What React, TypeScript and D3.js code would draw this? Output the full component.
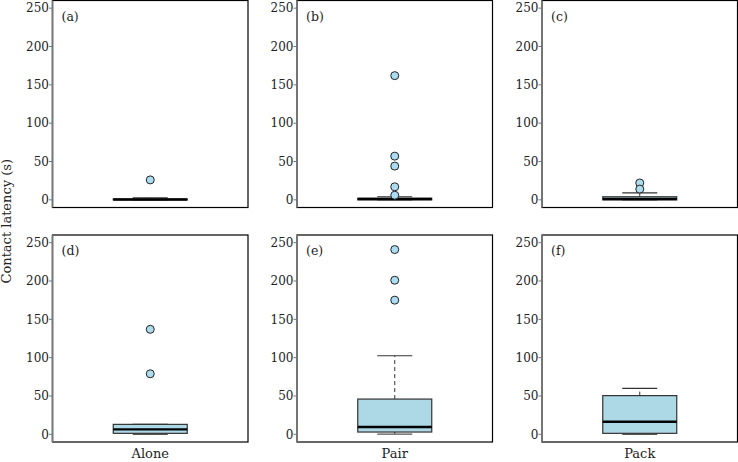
import React from "react";
import * as d3 from "d3";

const panelLabels = ["(a)", "(b)", "(c)", "(d)", "(e)", "(f)"];
const groups = ["Alone", "Pair", "Pack", "Alone", "Pair", "Pack"];
const whiskerLow = [0, 0, 0, 0, 0.4, 0];
const q1 = [0, 0, 0, 1.3, 3, 1.3];
const medians = [0.5, 1, 1, 6.5, 9.5, 16.5];
const q3 = [1, 2, 4, 13, 46, 50.5];
const whiskerHigh = [2.5, 4, 9, 13, 102.5, 60];
const outliers = [[26], [162, 57, 44, 17, 6], [22, 14], [137, 79], [241, 201, 175], []];
const yTicks = [0, 50, 100, 150, 200, 250];
const xLabels = ["Alone", "Pair", "Pack"];

const W = 738;
const H = 462;
const colX = [52.5, 297, 542];
const rowY = [0.5, 235];
const PW = 195.5;
const PH = 207;
const FONT = "DejaVu Serif, serif";

function Panel({ i }: { i: number }) {
  const col = i % 3;
  const row = Math.floor(i / 3);
  const x0 = colX[col];
  const y0 = rowY[row];
  const y = d3.scaleLinear().domain([-10, 260]).range([y0 + PH, y0]);
  const xs = d3.scaleBand().domain([groups[i]]).range([x0, x0 + PW]).paddingInner(0).paddingOuter(0.81);
  const cx = (xs(groups[i]) as number) + xs.bandwidth() / 2;
  const bw = 74;
  const cw = 35;
  return (
    <g>
      <rect x={x0} y={y0} width={PW} height={PH} fill="white" stroke="#000" strokeWidth={1.2} />
      <line x1={x0} x2={x0} y1={y0} y2={y0 + PH} stroke="#777" strokeWidth={1.8} />
      {yTicks.map((t) => (
        <g key={t}>
          <line x1={x0 - 3.5} x2={x0} y1={y(t)} y2={y(t)} stroke="#777" strokeWidth={1} />
          <text x={x0 - 3.5} y={y(t)} dy="0.35em" textAnchor="end" fontFamily={FONT} fontSize={12} fill="#222">
            {t}
          </text>
        </g>
      ))}
      <text x={x0 + 9} y={y0 + 20} fontFamily={FONT} fontSize={12.5} fill="#222">
        {panelLabels[i]}
      </text>
      {/* whiskers */}
      <line x1={cx} x2={cx} y1={y(q3[i])} y2={y(whiskerHigh[i])} stroke="#333" strokeWidth={1} strokeDasharray="4,3" />
      <line x1={cx} x2={cx} y1={y(q1[i])} y2={y(whiskerLow[i])} stroke="#333" strokeWidth={1} strokeDasharray="4,3" />
      <line x1={cx - cw / 2} x2={cx + cw / 2} y1={y(whiskerHigh[i])} y2={y(whiskerHigh[i])} stroke="#333" strokeWidth={1.2} />
      <line x1={cx - cw / 2} x2={cx + cw / 2} y1={y(whiskerLow[i])} y2={y(whiskerLow[i])} stroke="#555" strokeWidth={1.2} />
      {/* box */}
      <rect
        x={cx - bw / 2}
        y={y(q3[i])}
        width={bw}
        height={Math.max(0.5, y(q1[i]) - y(q3[i]))}
        fill="#add8e6"
        stroke="#333"
        strokeWidth={1.2}
      />
      <line x1={cx - bw / 2} x2={cx + bw / 2} y1={y(medians[i])} y2={y(medians[i])} stroke="#000" strokeWidth={2.4} />
      {outliers[i].map((v, k) => (
        <circle key={k} cx={cx} cy={y(v)} r={4} fill="#abdcf0" stroke="#222" strokeWidth={1} />
      ))}
    </g>
  );
}

export default function App() {
  return (
    <svg width={W} height={H} style={{ position: "absolute", left: 0, top: 0, background: "white" }}>
      <rect x={0} y={0} width={W} height={H} fill="white" />
      {panelLabels.map((_, i) => (
        <Panel key={i} i={i} />
      ))}
      {xLabels.map((l, c) => (
        <text key={l} x={colX[c] + PW / 2} y={458} textAnchor="middle" fontFamily={FONT} fontSize={13} fill="#222">
          {l}
        </text>
      ))}
      <text
        transform={`translate(11, ${(rowY[0] + PH + rowY[1]) / 2}) rotate(-90)`}
        textAnchor="middle"
        fontFamily={FONT}
        fontSize={13}
        fill="#222"
      >
        Contact latency (s)
      </text>
    </svg>
  );
}
